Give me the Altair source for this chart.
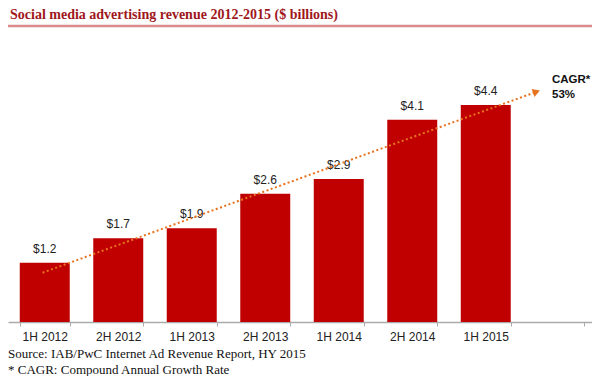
import altair as alt
import pandas as pd

categories = ["1H 2012", "2H 2012", "1H 2013", "2H 2013", "1H 2014", "2H 2014", "1H 2015"]
revenue = [1.2, 1.7, 1.9, 2.6, 2.9, 4.1, 4.4]
labels = ["$1.2", "$1.7", "$1.9", "$2.6", "$2.9", "$4.1", "$4.4"]
axis_domain = categories + [" "]

trend_x = [0.47, 7.19]
trend_y = [1.0, 4.67]

title_text = "Social media advertising revenue 2012-2015 ($ billions)"
source_lines = ["Source: IAB/PwC Internet Ad Revenue Report, HY 2015",
                "* CAGR: Compound Annual Growth Rate"]
cagr_lines = ["CAGR*", "53%"]

W, H = 584, 282
XR = 588
YMAX = 5.72

bars_df = pd.DataFrame({"cat": categories, "rev": revenue, "label": labels})
trend_df = pd.DataFrame({"tx": trend_x, "ty": trend_y})
arrow_df = trend_df.iloc[[-1]]

xscale = alt.Scale(domain=axis_domain, range=[0, XR], paddingInner=0.32, paddingOuter=0.16)
yscale = alt.Scale(domain=[0, YMAX])

bars = alt.Chart(bars_df).mark_bar(color="#C00000").encode(
    x=alt.X("cat:N", scale=xscale, sort=None, title=None,
            axis=alt.Axis(labelAngle=0, tickBand="extent", labelFont="Liberation Sans",
                          labelFontSize=12, labelColor="#222", domainColor="#aaa",
                          tickColor="#aaa", tickSize=4, labelPadding=5, domainWidth=1.5)),
    y=alt.Y("rev:Q", scale=yscale, axis=None),
)
values = alt.Chart(bars_df).mark_text(baseline="bottom", dy=-7, font="Liberation Sans",
                                      fontSize=12, color="#222").encode(
    x=alt.X("cat:N", scale=xscale, sort=None, axis=None),
    y=alt.Y("rev:Q", scale=yscale, axis=None),
    text="label:N",
)

tx = alt.X("tx:Q", scale=alt.Scale(domain=[0, 8], range=[0, XR]), axis=None)
ty = alt.Y("ty:Q", scale=yscale, axis=None)
trend = alt.Chart(trend_df).mark_line(color="#E8731F", strokeDash=[2, 2.5], strokeWidth=2).encode(x=tx, y=ty)
arrow = alt.Chart(arrow_df).mark_point(shape="triangle-right", filled=True, color="#E8731F",
                                       size=70, angle=340, opacity=1).encode(x=tx, y=ty)


def text_line(t, x, y, **kw):
    return alt.Chart(pd.DataFrame({"t": [t]})).mark_text(align="left", baseline="middle", **kw).encode(
        x=alt.value(x), y=alt.value(y), text="t:N")


cagr_kw = dict(font="Liberation Sans", fontSize=11.5, fontWeight="bold", color="#111")
cagr0 = text_line(cagr_lines[0], 544, 40, **cagr_kw)
cagr1 = text_line(cagr_lines[1], 544, 55, **cagr_kw)

title = text_line(title_text, 2, -25, font="Liberation Serif", fontSize=14, fontWeight="bold",
                  color="#A0171C")
underline = alt.Chart(pd.DataFrame({"a": [0]})).mark_rule(color="#D98A8A", strokeWidth=2.5).encode(
    x=alt.value(0), x2=alt.value(W), y=alt.value(-14))

src_kw = dict(font="Liberation Serif", fontSize=13, color="#111")
src0 = text_line(source_lines[0], 0, 314, **src_kw)
src1 = text_line(source_lines[1], 0, 330, **src_kw)

chart = alt.layer(bars, values, trend, arrow, cagr0, cagr1, title, underline, src0, src1).resolve_scale(
    x="independent", y="independent"
).properties(
    width=W, height=H,
    autosize=alt.AutoSizeParams(type="none"),
    padding={"left": 0, "top": 32, "right": 0, "bottom": 54},
).configure_view(stroke=None)

chart.save("out.html", embed_options={"renderer": "svg", "actions": False})
